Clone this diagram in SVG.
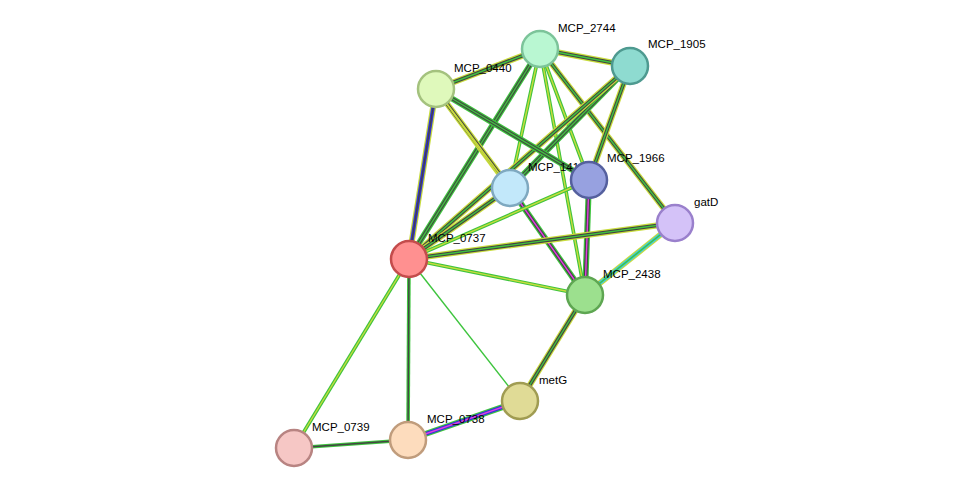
<svg xmlns="http://www.w3.org/2000/svg" width="975" height="494" viewBox="0 0 975 494">
<style>
.n{stroke-width:2.5}
text{font-family:"Liberation Sans",Arial,sans-serif;font-size:11.5px;fill:#000}
line{stroke-linecap:butt}
.w6{stroke-width:6}.w4{stroke-width:3.6}.w2{stroke-width:1.4}
.g{stroke:#3ec43e}.k{stroke:#444}.y{stroke:#c8dc3c}.b{stroke:#3333dd}.m{stroke:#e040e0}.c{stroke:#40c8e0}.wh{stroke:#fff}
</style>
<rect width="975" height="494" fill="#fff"/>
<g id="connectors">
<!-- 3-colour bundles: outer, middle, inner -->
<g><line x1="540" y1="49" x2="630" y2="66" class="w6 y"/><line x1="540" y1="49" x2="630" y2="66" class="w4 k"/><line x1="540" y1="49" x2="630" y2="66" class="w2 g"/></g>
<g><line x1="540" y1="49" x2="436" y2="89" class="w6 y"/><line x1="540" y1="49" x2="436" y2="89" class="w4 k"/><line x1="540" y1="49" x2="436" y2="89" class="w2 g"/></g>
<g><line x1="540" y1="49" x2="510" y2="188" class="w4 g"/><line x1="540" y1="49" x2="510" y2="188" class="w2 y"/></g>
<g><line x1="540" y1="49" x2="589" y2="180" class="w4 g"/><line x1="540" y1="49" x2="589" y2="180" class="w2 y"/></g>
<g><line x1="540" y1="49" x2="675" y2="223" class="w6 y"/><line x1="540" y1="49" x2="675" y2="223" class="w4 k"/><line x1="540" y1="49" x2="675" y2="223" class="w2 g"/></g>
<g><line x1="540" y1="49" x2="409" y2="259" class="w6 g"/><line x1="540" y1="49" x2="409" y2="259" class="w4 k"/><line x1="540" y1="49" x2="409" y2="259" class="w2 g"/></g>
<g><line x1="540" y1="49" x2="585" y2="295" class="w4 g"/><line x1="540" y1="49" x2="585" y2="295" class="w2 y"/></g>
<g><line x1="630" y1="66" x2="510" y2="188" class="w6 g"/><line x1="630" y1="66" x2="510" y2="188" class="w4 k"/><line x1="630" y1="66" x2="510" y2="188" class="w2 g"/></g>
<g><line x1="630" y1="66" x2="409" y2="259" class="w6 y"/><line x1="630" y1="66" x2="409" y2="259" class="w4 k"/><line x1="630" y1="66" x2="409" y2="259" class="w2 g"/></g>
<g><line x1="630" y1="66" x2="589" y2="180" class="w6 y"/><line x1="630" y1="66" x2="589" y2="180" class="w4 k"/><line x1="630" y1="66" x2="589" y2="180" class="w2 g"/></g>
<g><line x1="436" y1="89" x2="409" y2="259" class="w6 y"/><line x1="436" y1="89" x2="409" y2="259" class="w4 b"/><line x1="436" y1="89" x2="409" y2="259" class="w2 k"/></g>
<g><line x1="436" y1="89" x2="510" y2="188" class="w6 y"/><line x1="436" y1="89" x2="510" y2="188" class="w4 k"/><line x1="436" y1="89" x2="510" y2="188" class="w2 y"/></g>
<g><line x1="436" y1="89" x2="589" y2="180" class="w6 g"/><line x1="436" y1="89" x2="589" y2="180" class="w4 k"/><line x1="436" y1="89" x2="589" y2="180" class="w2 g"/></g>
<g><line x1="436" y1="89" x2="585" y2="295" class="w2 y"/></g>
<g><line x1="510" y1="188" x2="409" y2="259" class="w6 y"/><line x1="510" y1="188" x2="409" y2="259" class="w4 k"/><line x1="510" y1="188" x2="409" y2="259" class="w2 g"/></g>
<g><line x1="510" y1="188" x2="585" y2="295" class="w6 g"/><line x1="510" y1="188" x2="585" y2="295" class="w4 k"/><line x1="510" y1="188" x2="585" y2="295" class="w2 m"/></g>
<g><line x1="589" y1="180" x2="409" y2="259" class="w4 g"/><line x1="589" y1="180" x2="409" y2="259" class="w2 y"/></g>
<g><line x1="589" y1="180" x2="585" y2="295" class="w6 g"/><line x1="589" y1="180" x2="585" y2="295" class="w4 k"/><line x1="589" y1="180" x2="585" y2="295" class="w2 m"/></g>
<g><line x1="675" y1="223" x2="409" y2="259" class="w6 y"/><line x1="675" y1="223" x2="409" y2="259" class="w4 k"/><line x1="675" y1="223" x2="409" y2="259" class="w2 g"/></g>
<g><line x1="675" y1="223" x2="585" y2="295" class="w6 y"/><line x1="675" y1="223" x2="585" y2="295" class="w4 c"/><line x1="675" y1="223" x2="585" y2="295" class="w2 g"/></g>
<g><line x1="409" y1="259" x2="585" y2="295" class="w4 g"/><line x1="409" y1="259" x2="585" y2="295" class="w2 y"/></g>
<g><line x1="409" y1="259" x2="520" y2="401" class="w2 g"/></g>
<g><line x1="409" y1="259" x2="408" y2="440" class="w4 g"/><line x1="409" y1="259" x2="408" y2="440" class="w2 k"/></g>
<g><line x1="409" y1="259" x2="294" y2="448" class="w4 g"/><line x1="409" y1="259" x2="294" y2="448" class="w2 y"/></g>
<g><line x1="585" y1="295" x2="520" y2="401" class="w6 y"/><line x1="585" y1="295" x2="520" y2="401" class="w4 k"/><line x1="585" y1="295" x2="520" y2="401" class="w2 g"/></g>
<g><line x1="520" y1="401" x2="408" y2="440" class="w6 g"/><line x1="520" y1="401" x2="408" y2="440" class="w4 b"/><line x1="520" y1="401" x2="408" y2="440" class="w2 m"/></g>
<g><line x1="408" y1="440" x2="294" y2="448" class="w4 g"/><line x1="408" y1="440" x2="294" y2="448" class="w2 k"/></g>
</g>
<g id="MCP_14"><text x="528" y="171">MCP_1411</text><circle cx="510" cy="188" r="18" fill="#c2e8fa" stroke="#7fa9c0" class="n"/></g>
<g id="MCP_2744"><circle cx="540" cy="49" r="18" fill="#b9f7d2" stroke="#7cc49a" class="n"/><text x="558" y="32">MCP_2744</text></g>
<g id="MCP_1905"><circle cx="630" cy="66" r="18" fill="#8edbd0" stroke="#4e9a90" class="n"/><text x="648" y="48">MCP_1905</text></g>
<g id="MCP_0440"><circle cx="436" cy="89" r="18" fill="#dff9bb" stroke="#a4c27e" class="n"/><text x="454" y="72">MCP_0440</text></g>
<g id="MCP_1966"><circle cx="589" cy="180" r="18" fill="#97a1e0" stroke="#55609e" class="n"/><text x="607" y="162">MCP_1966</text></g>
<g id="gatD"><circle cx="675" cy="223" r="18" fill="#d4c2f8" stroke="#9a80cc" class="n"/><text x="694" y="206">gatD</text></g>
<g id="MCP_0737"><circle cx="409" cy="259" r="18" fill="#ff9090" stroke="#c44c4c" class="n"/><text x="428" y="242">MCP_0737</text></g>
<g id="MCP_2438"><circle cx="585" cy="295" r="18" fill="#9ce08e" stroke="#5ea652" class="n"/><text x="603" y="278">MCP_2438</text></g>
<g id="metG"><circle cx="520" cy="401" r="18" fill="#e0db96" stroke="#a09c52" class="n"/><text x="539" y="384">metG</text></g>
<g id="MCP_0738"><circle cx="408" cy="440" r="18" fill="#fddcbd" stroke="#c09c7c" class="n"/><text x="427" y="423">MCP_0738</text></g>
<g id="MCP_0739"><circle cx="294" cy="448" r="18" fill="#f6c7c5" stroke="#b88482" class="n"/><text x="312" y="431">MCP_0739</text></g>
</svg>
